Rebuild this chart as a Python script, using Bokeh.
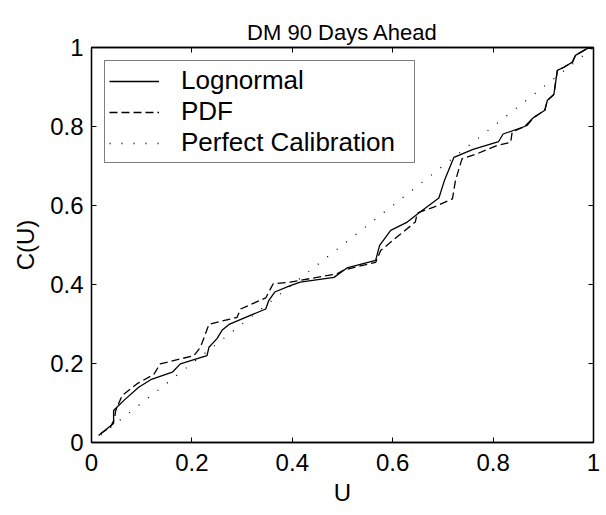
from bokeh.plotting import figure
from bokeh.models import LinearAxis, Range1d, Legend, LegendItem, FixedTicker
from bokeh.embed import file_html
from bokeh.resources import INLINE

title = "DM 90 Days Ahead"
x_label = "U"
y_label = "C(U)"
ticks = [0, 0.2, 0.4, 0.6, 0.8, 1.0]
tick_labels = {0: "0", 0.2: "0.2", 0.4: "0.4", 0.6: "0.6", 0.8: "0.8", 1.0: "1"}

logn_u = [0.014, 0.035, 0.044, 0.044, 0.064, 0.094, 0.118, 0.161, 0.177, 0.230, 0.234, 0.250,
          0.260, 0.274, 0.347, 0.353, 0.365, 0.396, 0.416, 0.483, 0.509, 0.566, 0.574, 0.596,
          0.629, 0.652, 0.692, 0.703, 0.722, 0.760, 0.811, 0.820, 0.863, 0.880, 0.903, 0.908,
          0.921, 0.928, 0.941, 0.958, 0.964, 0.987, 1.0]
logn_c = [0.018, 0.039, 0.048, 0.081, 0.106, 0.140, 0.159, 0.178, 0.199, 0.220, 0.241, 0.263,
          0.284, 0.299, 0.338, 0.359, 0.381, 0.397, 0.406, 0.418, 0.442, 0.461, 0.499, 0.537,
          0.558, 0.581, 0.619, 0.663, 0.722, 0.742, 0.762, 0.781, 0.800, 0.822, 0.841, 0.866,
          0.881, 0.942, 0.950, 0.963, 0.980, 0.997, 1.0]

pdf_u = [0.018, 0.038, 0.046, 0.048, 0.061, 0.091, 0.124, 0.137, 0.204, 0.217, 0.234, 0.290,
         0.297, 0.347, 0.362, 0.396, 0.489, 0.503, 0.566, 0.576, 0.612, 0.645, 0.649, 0.682,
         0.719, 0.725, 0.738, 0.768, 0.808, 0.835, 0.838, 0.868, 0.880, 0.903, 0.908, 0.921,
         0.928, 0.941, 0.958, 0.964, 0.987, 1.0]
pdf_c = [0.022, 0.040, 0.060, 0.080, 0.119, 0.149, 0.172, 0.199, 0.220, 0.241, 0.299, 0.317,
         0.338, 0.366, 0.402, 0.406, 0.427, 0.437, 0.456, 0.486, 0.524, 0.558, 0.581, 0.596,
         0.617, 0.663, 0.718, 0.731, 0.752, 0.760, 0.786, 0.803, 0.822, 0.841, 0.866, 0.881,
         0.942, 0.950, 0.963, 0.980, 0.997, 1.0]

perfect_u = [0.0, 1.0]
perfect_c = [0.0, 1.0]

FONT = "Liberation Sans"

p = figure(width=606, height=515, x_range=Range1d(0, 1), y_range=Range1d(0, 1),
           output_backend="svg", toolbar_location=None,
           min_border_left=91, min_border_right=13, min_border_top=47, min_border_bottom=73)

p.title.text = title
p.title.align = "center"
p.title.text_font = FONT
p.title.text_font_size = "22px"
p.title.text_font_style = "normal"
p.title.text_color = "black"
p.title.standoff = 5

p.xgrid.visible = False
p.ygrid.visible = False
p.outline_line_color = "black"
p.outline_line_width = 1.3

for ax, lab in ((p.xaxis[0], x_label), (p.yaxis[0], y_label)):
    ax.ticker = FixedTicker(ticks=ticks)
    ax.major_label_overrides = tick_labels
    ax.axis_label = lab
    ax.axis_label_text_font = FONT
    ax.axis_label_text_font_size = "24px"
    ax.axis_label_text_font_style = "normal"
    ax.axis_label_text_color = "black"
    ax.major_label_text_font = FONT
    ax.major_label_text_font_size = "24px"
    ax.major_label_text_color = "black"
    ax.major_tick_in = 5
    ax.major_tick_out = 0
    ax.minor_tick_line_color = None
    ax.axis_line_color = "black"
    ax.axis_line_width = 1.3
    ax.major_tick_line_color = "black"
p.xaxis.major_label_standoff = 11
p.xaxis.axis_label_standoff = 5
p.yaxis.major_label_standoff = 8
p.yaxis.axis_label_standoff = 8

for loc in ("right", "above"):
    ax = LinearAxis(ticker=FixedTicker(ticks=ticks), major_label_text_font_size="0px",
                    major_label_standoff=0, major_tick_in=5, major_tick_out=0,
                    minor_tick_line_color=None, axis_line_color="black", axis_line_width=1.3)
    p.add_layout(ax, loc)

r1 = p.line(logn_u, logn_c, line_color="black", line_width=1.3)
r2 = p.line(pdf_u, pdf_c, line_color="black", line_width=1.3, line_dash="8 4")
r3 = p.line(perfect_u, perfect_c, line_color="black", line_width=1.3, line_dash="1 11")

legend = Legend(items=[LegendItem(label="Lognormal", renderers=[r1]),
                       LegendItem(label="PDF", renderers=[r2]),
                       LegendItem(label="Perfect Calibration", renderers=[r3])],
                location="top_left", margin=13, padding=4, spacing=0,
                glyph_width=50, glyph_height=30, label_height=30, label_width=229,
                label_standoff=22,
                label_text_font=FONT, label_text_font_size="26px", label_text_color="black",
                border_line_color="black", border_line_width=1.3, background_fill_alpha=1)
p.add_layout(legend)

open("out.html", "w").write(file_html(p, INLINE))
